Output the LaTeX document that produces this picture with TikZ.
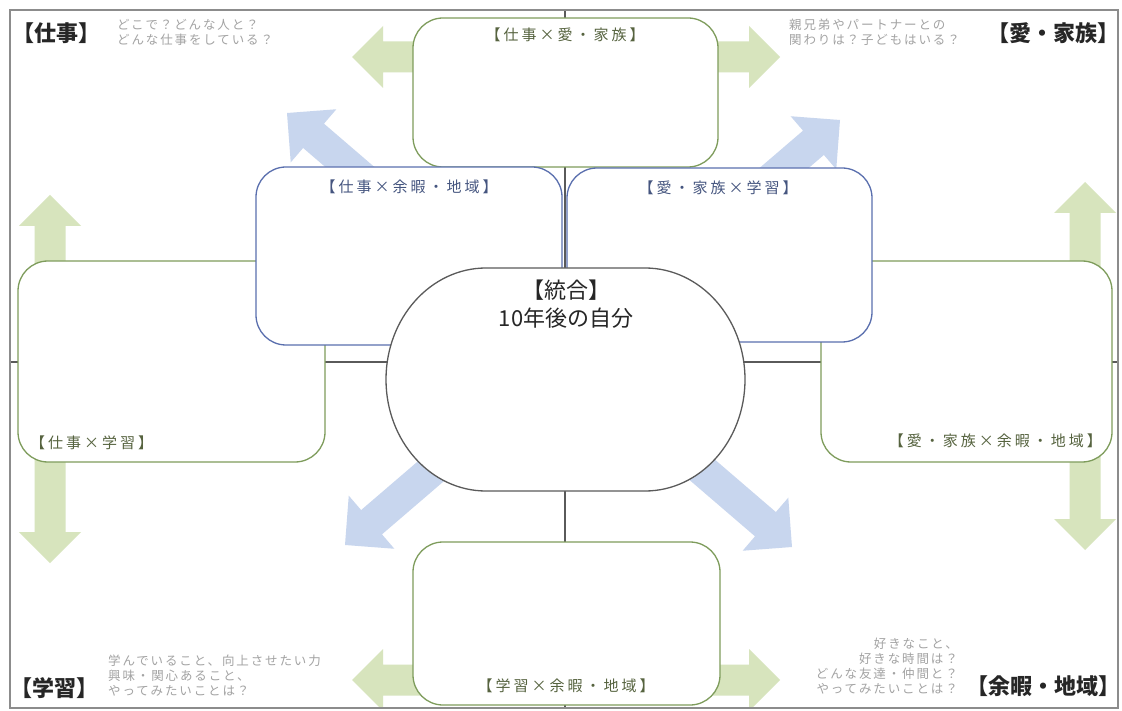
\documentclass[tikz,border=0pt]{standalone}
\usepackage{fontspec}
\setmainfont{Noto Sans CJK JP}
\newfontfamily\grfont[LetterSpace=15]{Noto Sans CJK JP}
\newfontfamily\lbfont[LetterSpace=20]{Noto Sans CJK JP}
\usetikzlibrary{calc}

\definecolor{framegray}{HTML}{8C8C8C}
\definecolor{linegray}{HTML}{5A5A5A}
\definecolor{gline}{HTML}{7E9C5C}
\definecolor{bline}{HTML}{5A6FAE}
\definecolor{garrowc}{HTML}{D7E4BD}
\definecolor{barrowc}{HTML}{C8D6EE}
\definecolor{gtext}{HTML}{56633F}
\definecolor{btext}{HTML}{45557F}
\definecolor{hintc}{HTML}{A3A3A3}
\definecolor{titlec}{HTML}{262626}

% double-headed fat arrow: tips #1 and #2, half shaft #3, half head #4, head length #5, colour #6
\newcommand\fatarrow[6]{%
  \fill[#6] (#1)
    -- ($($(#1)!#5!(#2)$)!#4!90:(#2)$)
    -- ($($(#1)!#5!(#2)$)!#3!90:(#2)$)
    -- ($($(#2)!#5!(#1)$)!#3!-90:(#1)$)
    -- ($($(#2)!#5!(#1)$)!#4!-90:(#1)$)
    -- (#2)
    -- ($($(#2)!#5!(#1)$)!#4!90:(#1)$)
    -- ($($(#2)!#5!(#1)$)!#3!90:(#1)$)
    -- ($($(#1)!#5!(#2)$)!#3!-90:(#2)$)
    -- ($($(#1)!#5!(#2)$)!#4!-90:(#2)$)
    -- cycle;}

\tikzset{
  gbox/.style={draw=gline, fill=white, line width=1.3pt, rounded corners=30pt, inner sep=0pt, outer sep=0pt},
  bbox/.style={draw=bline, fill=white, line width=1.3pt, rounded corners=30pt, inner sep=0pt, outer sep=0pt},
  crossline/.style={draw=linegray, line width=1.2pt},
  lbl/.style={inner sep=0pt, font=\lbfont\fontsize{15}{18}\selectfont},
  glbl/.style={lbl, text=gtext},
  blbl/.style={lbl, text=btext},
  ctext/.style={inner sep=0pt, font=\fontsize{22}{26}\selectfont, text=titlec},
  title/.style={inner sep=0pt, font=\fontsize{22}{26}\selectfont\bfseries, text=titlec},
  hint/.style={inner sep=0pt, font=\grfont\fontsize{12.5}{15}\selectfont, text=hintc},
}

\begin{document}
\begin{tikzpicture}[x=1pt,y=-1pt]
\useasboundingbox (0,0) rectangle (1122,711);
\fill[white] (0,0) rectangle (1122,711);

% cross lines
\coordinate (L) at (10,362);
\coordinate (R) at (1118,362);
\coordinate (T) at (565,10);
\coordinate (B) at (565,708);
\draw[crossline] (L) -- (R);
\draw[crossline] (T) -- (B);

% arrows
\begin{scope}
\clip (10,10) rectangle (1118,708);
\coordinate (gt1) at (352,57);  \coordinate (gt2) at (780,57);
\coordinate (gb1) at (352,680); \coordinate (gb2) at (780,680);
\coordinate (gl1) at (50,195);  \coordinate (gl2) at (50,563);
\coordinate (gr1) at (1085,182); \coordinate (gr2) at (1085,550);
\fatarrow{gt1}{gt2}{15.5pt}{31pt}{31pt}{garrowc}
\fatarrow{gb1}{gb2}{15.5pt}{31pt}{31pt}{garrowc}
\fatarrow{gl1}{gl2}{15.5pt}{31pt}{31pt}{garrowc}
\fatarrow{gr1}{gr2}{15.5pt}{31pt}{31pt}{garrowc}
\coordinate (bUL) at (287,113); \coordinate (bLR) at (792,547);
\coordinate (bUR) at (840,120); \coordinate (bLL) at (345,545);
\fatarrow{bUL}{bLR}{16pt}{35pt}{35pt}{barrowc}
\fatarrow{bUR}{bLL}{16pt}{35pt}{35pt}{barrowc}
\end{scope}

% frame
\draw[framegray, line width=1.5pt] (10,10) rectangle (1118,708);

% green boxes
\node[gbox, minimum width=305pt, minimum height=149pt] (topbox) at (565.5,92.5) {};
\node[gbox, minimum width=307pt, minimum height=201pt] (leftbox) at (171.5,361.5) {};
\node[gbox, minimum width=291pt, minimum height=201pt] (rightbox) at (966.5,361.5) {};
\node[gbox, minimum width=307pt, minimum height=163pt] (botbox) at (566.5,623.5) {};

% blue boxes
\node[bbox, minimum width=306pt, minimum height=178pt] (blbox) at (409,256) {};
\node[bbox, minimum width=305pt, minimum height=174pt] (brbox) at (719.5,255) {};

% centre shape
\draw[linegray, fill=white, line width=1.3pt]
  (486,268) -- (645,268)
  .. controls (700.2,268) and (745,317.9) .. (745,379.5)
  .. controls (745,441.1) and (700.2,491) .. (645,491)
  -- (486,491)
  .. controls (430.8,491) and (386,441.1) .. (386,379.5)
  .. controls (386,317.9) and (430.8,268) .. (486,268) -- cycle;
\node[ctext] (c1) at (566,290) {【統合】};
\node[ctext] (c2) at (566,318) {10年後の自分};

% box labels
\node[glbl] (ltop) at (565,35) {【仕事×愛・家族】};
\node[blbl] (lbl) at (409,187) {【仕事×余暇・地域】};
\node[blbl] (lbr) at (718,188) {【愛・家族×学習】};
\node[glbl, anchor=west] (lleft) at (30,443) {【仕事×学習】};
\node[glbl, anchor=east] (lright) at (1102,441) {【愛・家族×余暇・地域】};
\node[glbl] (lbot) at (566,686) {【学習×余暇・地域】};

% corner titles
\node[title, anchor=west] (tw) at (12,33) {【仕事】};
\node[title, anchor=east] (tl) at (1120,33) {【愛・家族】};
\node[title, anchor=west] (ts) at (10,688) {【学習】};
\node[title, anchor=east] (tr) at (1121,686) {【余暇・地域】};

% hints
\node[hint, anchor=north west, align=left] (hw) at (117,19) {どこで？どんな人と？\\どんな仕事をしている？};
\node[hint, anchor=north west, align=left] (hl) at (789,19) {親兄弟やパートナーとの\\関わりは？子どもはいる？};
\node[hint, anchor=north west, align=left] (hs) at (108,655) {学んでいること、向上させたい力\\興味・関心あること、\\やってみたいことは？};
\node[hint, anchor=north east, align=right] (hr) at (958,638) {好きなこと、\\好きな時間は？\\どんな友達・仲間と？\\やってみたいことは？};
\end{tikzpicture}
\end{document}
